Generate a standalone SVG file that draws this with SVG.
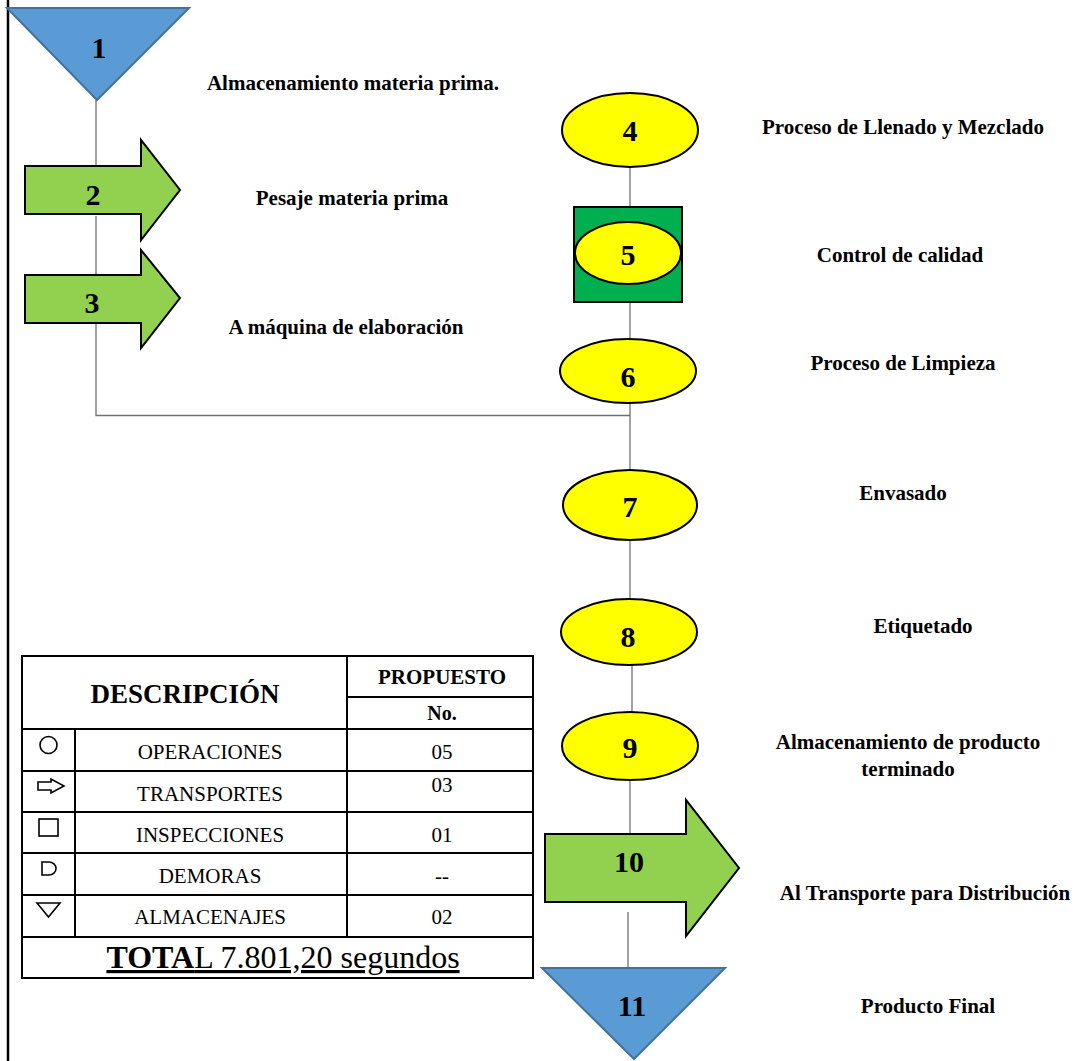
<svg xmlns="http://www.w3.org/2000/svg" width="1083" height="1061" viewBox="0 0 1083 1061">
<defs>
<style>
.tri{fill:#5B9BD5;stroke:#41719C;stroke-width:2}
.arr{fill:#92D050;stroke:#000;stroke-width:2}
.ell{fill:#FFFF00;stroke:#000;stroke-width:2}
.sq{fill:#00B050;stroke:#000;stroke-width:2}
text{font-family:'Liberation Serif','Times New Roman','DejaVu Serif',serif}
.num{font-weight:bold;font-size:30px;text-anchor:middle;fill:#000}
.lbl{font-weight:bold;font-size:21px;text-anchor:middle;fill:#000}
.con line,.con polyline{stroke:#707070;stroke-width:1.3;fill:none}
.tb{stroke:#000;stroke-width:2;fill:none}
.th{font-weight:bold;text-anchor:middle;fill:#000}
.td{font-size:21px;text-anchor:middle;fill:#000}
.tot{font-size:32px;text-anchor:middle;text-decoration:underline;fill:#000}
.ic{fill:none;stroke:#000;stroke-width:1.6}
</style>
</defs>
<rect width="1083" height="1061" fill="#fff"/>
<line x1="8" y1="0" x2="8" y2="1061" stroke="#000" stroke-width="2.5"/>

<g id="connectors" class="con">
<line x1="96" y1="100" x2="96" y2="166"/>
<line x1="96" y1="216" x2="96" y2="275"/>
<polyline points="96,323 96,415.5 630,415.5"/>
<line x1="630" y1="167" x2="630" y2="207"/>
<line x1="630" y1="302" x2="630" y2="339"/>
<line x1="630" y1="403" x2="630" y2="470"/>
<line x1="630" y1="540" x2="630" y2="600"/>
<line x1="632" y1="665" x2="632" y2="712"/>
<line x1="630" y1="780" x2="630" y2="834"/>
<line x1="628" y1="912" x2="628" y2="968"/>
</g>

<g id="n1">
<polygon class="tri" points="7,8 189,8 97,100"/>
<text class="num" x="99" y="58">1</text>
<text class="lbl" x="353" y="90">Almacenamiento materia prima.</text>
</g>
<g id="n2">
<polygon class="arr" points="25,166 141,166 141,140 180,190 141,240 141,214 25,214"/>
<text class="num" x="93" y="205">2</text>
<text class="lbl" x="352" y="205">Pesaje materia prima</text>
</g>
<g id="n3">
<polygon class="arr" points="25,275 141,275 141,250 180,298 141,348 141,323 25,323"/>
<text class="num" x="92" y="313">3</text>
<text class="lbl" x="346" y="334">A máquina de elaboración</text>
</g>
<g id="n4">
<ellipse class="ell" cx="630" cy="130" rx="68" ry="37"/>
<text class="num" x="630" y="141">4</text>
<text class="lbl" x="903" y="134">Proceso de Llenado y Mezclado</text>
</g>
<g id="n5">
<rect class="sq" x="574" y="207" width="108" height="95"/>
<ellipse class="ell" cx="628" cy="253" rx="53" ry="31"/>
<text class="num" x="628" y="265">5</text>
<text class="lbl" x="900" y="262">Control de calidad</text>
</g>
<g id="n6">
<ellipse class="ell" cx="628" cy="371" rx="68" ry="32"/>
<text class="num" x="628" y="387">6</text>
<text class="lbl" x="903" y="370">Proceso de Limpieza</text>
</g>
<g id="n7">
<ellipse class="ell" cx="630" cy="505" rx="67" ry="35"/>
<text class="num" x="630" y="517">7</text>
<text class="lbl" x="903" y="500">Envasado</text>
</g>
<g id="n8">
<ellipse class="ell" cx="629" cy="632" rx="68" ry="33"/>
<text class="num" x="628" y="647">8</text>
<text class="lbl" x="923" y="633">Etiquetado</text>
</g>
<g id="n9">
<ellipse class="ell" cx="630" cy="746" rx="68" ry="34"/>
<text class="num" x="630" y="758">9</text>
<text class="lbl" x="908" y="749">Almacenamiento de producto</text>
<text class="lbl" x="908" y="776">terminado</text>
</g>
<g id="n10">
<polygon class="arr" points="545,834 686,834 686,800 739,868 686,936 686,902 545,902"/>
<text class="num" x="629" y="872">10</text>
<text class="lbl" x="925" y="900">Al Transporte para Distribución</text>
</g>
<g id="n11">
<polygon class="tri" points="542,968 725,968 634,1059"/>
<text class="num" x="632" y="1016">11</text>
<text class="lbl" x="928" y="1013">Producto Final</text>
</g>

<g id="table">
<rect class="tb" x="22" y="656" width="511" height="322"/>
<line class="tb" x1="347" y1="656" x2="347" y2="937"/>
<line class="tb" x1="347" y1="697" x2="533" y2="697"/>
<line class="tb" x1="22" y1="729" x2="533" y2="729"/>
<line class="tb" x1="22" y1="771" x2="533" y2="771"/>
<line class="tb" x1="22" y1="812" x2="533" y2="812"/>
<line class="tb" x1="22" y1="853" x2="533" y2="853"/>
<line class="tb" x1="22" y1="895" x2="533" y2="895"/>
<line class="tb" x1="22" y1="937" x2="533" y2="937"/>
<line class="tb" x1="75" y1="729" x2="75" y2="937"/>
<text class="th" x="185" y="703" font-size="27">DESCRIPCIÓN</text>
<text class="th" x="442" y="684" font-size="21">PROPUESTO</text>
<text class="th" x="442" y="720" font-size="20">No.</text>
<circle class="ic" cx="48.5" cy="745" r="8.5"/>
<polygon class="ic" points="38,782 51,782 51,779 64,786 51,793 51,790 38,790"/>
<rect class="ic" x="39" y="819" width="19" height="17"/>
<path class="ic" d="M42,862 L49,862 A7,6.5 0 0 1 49,875 L42,875 Z"/>
<polygon class="ic" points="37,903 60,903 48.5,917"/>
<text class="td" x="210" y="759">OPERACIONES</text>
<text class="td" x="210" y="801">TRANSPORTES</text>
<text class="td" x="210" y="842">INSPECCIONES</text>
<text class="td" x="210" y="883">DEMORAS</text>
<text class="td" x="210" y="924">ALMACENAJES</text>
<text class="td" x="442" y="759">05</text>
<text class="td" x="442" y="792">03</text>
<text class="td" x="442" y="842">01</text>
<text class="td" x="442" y="883">--</text>
<text class="td" x="442" y="924">02</text>
<text class="tot" x="283" y="968"><tspan font-weight="bold">TOTA</tspan>L 7.801,20 segundos</text>
</g>
</svg>
